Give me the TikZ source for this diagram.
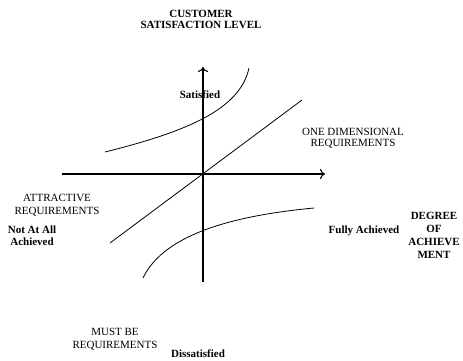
\documentclass[tikz,border=0pt]{standalone}
\usepackage{fontspec}
\setmainfont{Liberation Serif}
\usepackage{tikz}
\usetikzlibrary{arrows.meta,positioning}

\begin{document}
\begin{tikzpicture}[x=1pt,y=-1pt,font=\fontsize{11}{12}\selectfont,
  lbl/.style={align=center,inner sep=0pt},
  blbl/.style={lbl,font=\fontsize{11}{12}\selectfont\bfseries},
  axis/.style={line width=1.1pt,-{To[length=5pt,width=10pt]}}]
\useasboundingbox (0,0) rectangle (463,360);
% axes
\coordinate (xl) at (62,174);
\coordinate (xr) at (325,174);
\coordinate (yb) at (203,282);
\coordinate (yt) at (203,67);
\draw[axis] (xl)--(xr);
\draw[axis] (yb)--(yt);
% curves
\draw[line width=0.8pt] (105,152) .. controls (185,132) and (240,110) .. (249,68);
\draw[line width=0.8pt] (110,243)--(302,100);
\draw[line width=0.8pt] (143,278) .. controls (165,232) and (240,215) .. (314,208);
% labels
\node[blbl] (csl) at (201,19) {CUSTOMER\\[-1pt]SATISFACTION LEVEL};
\node[blbl] (sat) at (200,95) {Satisfied};
\node[lbl] (one) at (353,138) {ONE DIMENSIONAL\\[-1pt]REQUIREMENTS};
\node[lbl] (att) at (57,205) {ATTRACTIVE\\[1pt]REQUIREMENTS};
\node[blbl] (nota) at (32,236) {Not At All\\Achieved};
\node[blbl] (fully) at (364,231) {Fully Achieved};
\node[blbl] (deg) at (434,235) {DEGREE\\[1pt]OF\\[1pt]ACHIEVE\\[1pt]MENT};
\node[lbl] (must) at (115,339) {MUST BE\\[1pt]REQUIREMENTS};
\node[blbl] (dis) at (198,354) {Dissatisfied};
\end{tikzpicture}
\end{document}
